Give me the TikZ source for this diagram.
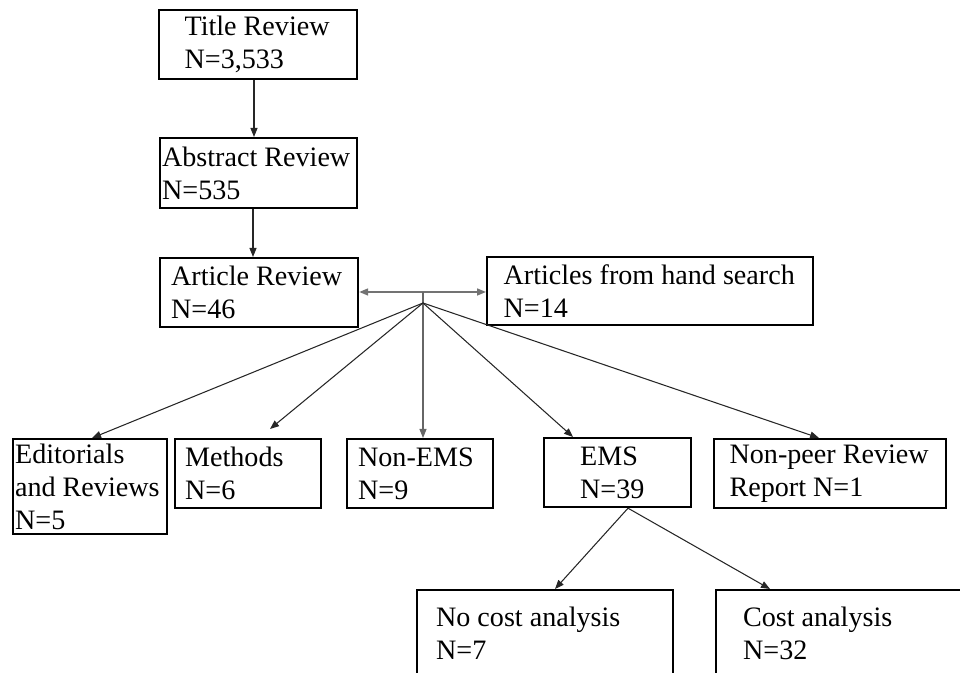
\documentclass[tikz,border=0pt]{standalone}
\usepackage{fontspec}
\setmainfont{Liberation Serif}
\usetikzlibrary{arrows.meta, calc}
% niente sillabazione dentro le caselle
\hyphenpenalty=10000
\exhyphenpenalty=10000

\begin{document}
\begin{tikzpicture}[
  casella/.style={draw=black, line width=1.25pt, anchor=north west, align=flush left,
                  inner ysep=0pt, font=\fontsize{16}{18.8}\selectfont},
  freccia/.style={draw=black!85, line width=0.6pt,
                  -{Triangle[length=0.18cm, width=0.14cm]}},
  doppia/.style={draw=black!55, line width=0.9pt,
                 {Triangle[length=0.18cm, width=0.14cm]}-{Triangle[length=0.18cm, width=0.14cm]}}
]
\useasboundingbox (0,0) rectangle (19.2,13.46);

% ---- revisione a cascata --------------------------------------------
\node[casella, minimum height=1.38cm, inner xsep=0.51cm, text width=2.94cm]
  (titolo) at (3.16,13.28) {Title~Review\\N=3,533};
\node[casella, minimum height=1.40cm, inner xsep=0.04cm, text width=3.86cm]
  (abstract) at (3.18,10.72) {Abstract~Review\\N=535};
\node[casella, minimum height=1.38cm, inner xsep=0.22cm, text width=3.52cm]
  (articoli) at (3.18,8.32) {Article~Review\\N=46};
\node[casella, minimum height=1.36cm, inner xsep=0.33cm, text width=5.86cm]
  (manuale) at (9.72,8.34) {Articles~from~hand~search\\N=14};

% ---- categorie --------------------------------------------------------
\node[casella, minimum height=1.90cm, inner xsep=0.04cm, text width=3.00cm]
  (editoriali) at (0.24,4.70) {Editorials\\and~Reviews\\N=5};
\node[casella, minimum height=1.38cm, inner xsep=0.20cm, text width=2.52cm]
  (metodi) at (3.48,4.70) {Methods\\N=6};
\node[casella, minimum height=1.38cm, inner xsep=0.22cm, text width=2.48cm]
  (nonems) at (6.92,4.70) {Non-EMS\\N=9};
\node[casella, minimum height=1.38cm, inner xsep=0.72cm, text width=1.50cm]
  (ems) at (10.86,4.72) {EMS\\N=39};
\node[casella, minimum height=1.38cm, inner xsep=0.31cm, text width=4.02cm]
  (nonpeer) at (14.26,4.70) {Non-peer~Review\\Report~N=1};

% ---- analisi dei costi (tagliate in basso) ----------------------------
\node[casella, minimum height=1.72cm, inner xsep=0.38cm, text width=4.36cm]
  (nocosto) at (8.32,1.68) {No~cost~analysis\\N=7};
\node[casella, minimum height=1.72cm, inner xsep=0.54cm, text width=4.32cm]
  (costo) at (14.30,1.68) {Cost~analysis\\N=32};

% ---- punti di attacco -------------------------------------------------
\coordinate (snodo)     at (8.46,7.62);
\coordinate (ventaglio) at (8.46,7.40);
\coordinate (t1) at ($(titolo.south west)+(1.92,0)$);
\coordinate (a1) at ($(abstract.south west)+(1.88,0)$);
\coordinate (e1) at ($(ems.south west)+(1.70,0)$);

% ---- collegamenti -----------------------------------------------------
\draw[freccia] (t1) -- (t1 |- abstract.north);
\draw[freccia] (a1) -- (a1 |- articoli.north);
\draw[doppia]  (articoli.east |- snodo) -- (manuale.west |- snodo);
\draw[freccia, draw=black!60] (snodo) -- (snodo |- nonems.north);

\draw[freccia] (ventaglio) -- ($(editoriali.north west)+(1.60,0)$);
\draw[freccia] (ventaglio) -- ($(metodi.north west)+(1.92,0.18)$);
\draw[freccia] (ventaglio) -- ($(ems.north west)+(0.60,0)$);
\draw[freccia] (ventaglio) -- ($(nonpeer.north west)+(2.12,0)$);

\draw[freccia] (e1) -- ($(nocosto.north west)+(2.78,0)$);
\draw[freccia] (e1) -- ($(costo.north west)+(1.10,0)$);

\end{tikzpicture}
\end{document}
